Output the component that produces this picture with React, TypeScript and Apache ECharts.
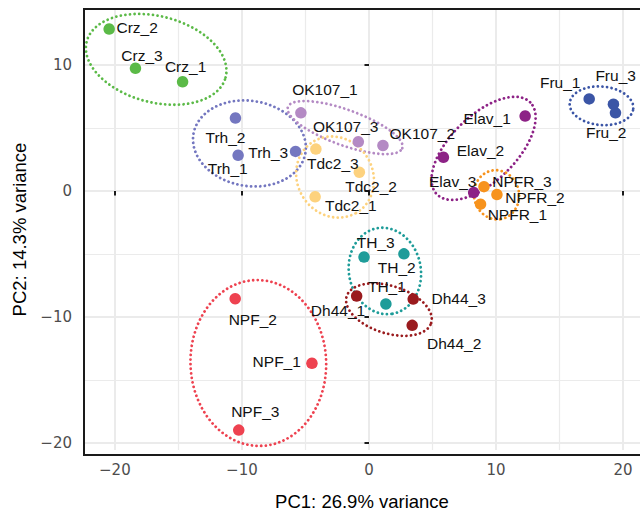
import React, { useEffect, useRef } from "react";
import * as echarts from "echarts";

// ---- data ----
const groups = ["Crz", "Trh", "OK107", "Tdc2", "Elav", "NPFR", "Fru", "TH", "Dh44", "NPF"];
const groupColors = ["#5bba47", "#7477c0", "#b48ac4", "#fdd27e", "#8d2286", "#f7931d", "#3b55a6", "#1e9c99", "#9a1b1e", "#ee4250"];

const sampleNames = [
  "Crz_1", "Crz_2", "Crz_3",
  "Trh_1", "Trh_2", "Trh_3",
  "OK107_1", "OK107_2", "OK107_3",
  "Tdc2_1", "Tdc2_2", "Tdc2_3",
  "Elav_1", "Elav_2", "Elav_3",
  "NPFR_1", "NPFR_2", "NPFR_3",
  "Fru_1", "Fru_2", "Fru_3",
  "TH_1", "TH_2", "TH_3",
  "Dh44_1", "Dh44_2", "Dh44_3",
  "NPF_1", "NPF_2", "NPF_3",
];
const sampleGroup = [
  "Crz", "Crz", "Crz",
  "Trh", "Trh", "Trh",
  "OK107", "OK107", "OK107",
  "Tdc2", "Tdc2", "Tdc2",
  "Elav", "Elav", "Elav",
  "NPFR", "NPFR", "NPFR",
  "Fru", "Fru", "Fru",
  "TH", "TH", "TH",
  "Dh44", "Dh44", "Dh44",
  "NPF", "NPF", "NPF",
];
const pc1 = [
  -14.67, -20.45, -18.38,
  -10.3, -10.51, -5.78,
  -5.36, 1.1, -0.84,
  -4.24, -0.76, -4.18,
  12.29, 5.86, 8.24,
  8.78, 10.07, 9.05,
  17.33, 19.4, 19.24,
  1.33, 2.75, -0.39,
  -0.97, 3.4, 3.48,
  -4.49, -10.53, -10.25,
];
const pc2 = [
  8.67, 12.86, 9.74,
  2.83, 5.79, 3.14,
  6.2, 3.61, 3.9,
  -0.47, 1.49, 3.32,
  5.95, 2.67, -0.13,
  -1.05, -0.29, 0.34,
  7.31, 6.2, 6.89,
  -8.98, -5.0, -5.25,
  -8.35, -10.68, -8.59,
  -13.69, -8.56, -19.0,
];

// ellipse parameters per group (data units, angle in degrees)
const ellipseCx = [-16.75, -9.41, -1.88, -2.67, 9.02, 10.04, 18.3, 1.25, 1.57, -8.71];
const ellipseCy = [10.45, 3.77, 5.03, 1.1, 3.38, -0.31, 6.76, -6.36, -9.43, -13.67];
const ellipseRx = [5.65, 4.47, 4.79, 3.3, 5.18, 1.96, 2.51, 3.45, 3.49, 6.59];
const ellipseRy = [3.42, 3.38, 1.41, 2.98, 2.59, 1.77, 1.53, 2.83, 1.88, 5.34];
const ellipseAngle = [-14.8, -10, -20, -60, 45, -80, -5, -80, -17.8, -88];

const xTicks = [-20, -10, 0, 10, 20];
const yTicks = [-20, -10, 0, 10];
const xTitle = "PC1: 26.9% variance";
const yTitle = "PC2: 14.3% variance";

// label placement (pixel offsets of label centre from point centre)
const labelOffsets: Record<string, [number, number]> = {
  Crz_1: [3, -15], Crz_2: [28, -2], Crz_3: [6.5, -12.5],
  Trh_1: [-10.4, 13.7], Trh_2: [-10, 19], Trh_3: [-27.3, 1.3],
  OK107_1: [24, -23], OK107_2: [39.3, -12], OK107_3: [-12.6, -15],
  Tdc2_1: [35.7, 8.3], Tdc2_2: [11.7, 14.3], Tdc2_3: [17, 14.3],
  Elav_1: [-38, 2], Elav_2: [37, -7.3], Elav_3: [-21, -11.4],
  NPFR_1: [36.8, 10.4], NPFR_2: [38, 3.3], NPFR_3: [38, -5.4],
  Fru_1: [-29, -16], Fru_2: [-9.3, 20], Fru_3: [2.2, -28.6],
  TH_1: [1, -17.3], TH_2: [-7.2, 13.3], TH_3: [11.7, -15],
  Dh44_1: [-18.7, 14], Dh44_2: [42, 17.7], Dh44_3: [45.4, -0.6],
  NPF_1: [-35.2, -1.3], NPF_2: [17.6, 21.3], NPF_3: [16.5, -18.3],
};

const X_MIN = -22.43;
const X_MAX = 21.33;
const Y_MIN = -20.58;
const Y_MAX = 14.45;

const GRID = { left: 84, top: 9, width: 558, height: 446 };

const fmt = (v: number) => {
  if (Math.abs(v % 10) > 1e-6) return "";
  return v < 0 ? "\u2212" + Math.abs(v) : String(v);
};

export default function App() {
  const ref = useRef<HTMLDivElement>(null);
  useEffect(() => {
    if (!ref.current) return;
    const chart = echarts.init(ref.current, null, { renderer: "svg" });
    const series: any[] = [];

    groups.forEach((g, gi) => {
      const pts: number[][] = [];
      const phi = (ellipseAngle[gi] * Math.PI) / 180;
      const steps = 160;
      for (let k = 0; k <= steps; k++) {
        const t = (2 * Math.PI * k) / steps;
        const ex = ellipseRx[gi] * Math.cos(t);
        const ey = ellipseRy[gi] * Math.sin(t);
        pts.push([
          ellipseCx[gi] + ex * Math.cos(phi) - ey * Math.sin(phi),
          ellipseCy[gi] + ex * Math.sin(phi) + ey * Math.cos(phi),
        ]);
      }
      series.push({
        type: "line",
        name: g + "_ellipse",
        data: pts,
        showSymbol: false,
        symbol: "none",
        silent: true,
        z: 2,
        clip: false,
        lineStyle: { color: groupColors[gi], width: 2.8, type: [0.01, 4.6], cap: "round" },
      });
    });

    groups.forEach((g, gi) => {
      const data: any[] = [];
      sampleNames.forEach((n, i) => {
        if (sampleGroup[i] !== g) return;
        data.push({
          name: n,
          value: [pc1[i], pc2[i]],
          label: { offset: labelOffsets[n] || [0, -14] },
        });
      });
      series.push({
        type: "scatter",
        name: g,
        data,
        symbol: "circle",
        symbolSize: 11.5,
        z: 3,
        itemStyle: { color: groupColors[gi], opacity: 1 },
        label: {
          show: true,
          position: "inside",
          formatter: "{b}",
          color: "#111",
          fontSize: 15.5,
          fontFamily: "'Liberation Sans', Arial, Helvetica, sans-serif",
          textBorderWidth: 0,
        },
        emphasis: { disabled: true },
      });
    });

    chart.setOption({
      animation: false,
      backgroundColor: "#ffffff",
      grid: { ...GRID, show: true, backgroundColor: "#ffffff", borderWidth: 0 },
      xAxis: {
        type: "value",
        min: X_MIN,
        max: X_MAX,
        splitNumber: 4,
        axisLine: { show: false },
        axisTick: { show: true, length: 4.5, customValues: xTicks, lineStyle: { color: "#1a1a1a", width: 2 } },
        axisLabel: {
          show: true,
          customValues: xTicks,
          formatter: fmt,
          margin: 12,
          color: "#4d4d4d",
          fontSize: 15,
          fontFamily: "'DejaVu Sans', sans-serif",
        },
        splitLine: { show: true, lineStyle: { color: "#ebebeb", width: 2 } },
        minorTick: { show: false, splitNumber: 2 },
        minorSplitLine: { show: true, lineStyle: { color: "#ebebeb", width: 1.2 } },
        name: xTitle,
        nameLocation: "middle",
        nameGap: 42,
        nameTextStyle: { color: "#000", fontSize: 18.5, fontFamily: "'Liberation Sans', Arial, sans-serif" },
      },
      yAxis: {
        type: "value",
        min: Y_MIN,
        max: Y_MAX,
        splitNumber: 4,
        axisLine: { show: false },
        axisTick: { show: true, length: 4.5, customValues: yTicks, lineStyle: { color: "#1a1a1a", width: 2 } },
        axisLabel: {
          show: true,
          customValues: yTicks,
          formatter: fmt,
          margin: 12,
          color: "#4d4d4d",
          fontSize: 15,
          fontFamily: "'DejaVu Sans', sans-serif",
        },
        splitLine: { show: true, lineStyle: { color: "#ebebeb", width: 2 } },
        minorTick: { show: false, splitNumber: 2 },
        minorSplitLine: { show: true, lineStyle: { color: "#ebebeb", width: 1.2 } },
        name: yTitle,
        nameLocation: "middle",
        nameGap: 52,
        nameRotate: 90,
        nameTextStyle: { color: "#000", fontSize: 18.5, fontFamily: "'Liberation Sans', Arial, sans-serif" },
      },
      graphic: [
        {
          type: "rect",
          z: 100,
          silent: true,
          shape: { x: GRID.left, y: GRID.top, width: GRID.width, height: GRID.height },
          style: { fill: "none", stroke: "#1a1a1a", lineWidth: 2 },
        },
      ],
      series,
    });
    return () => chart.dispose();
  }, []);
  return <div ref={ref} style={{ position: "absolute", left: 0, top: 0, width: 640, height: 516 }} />;
}
